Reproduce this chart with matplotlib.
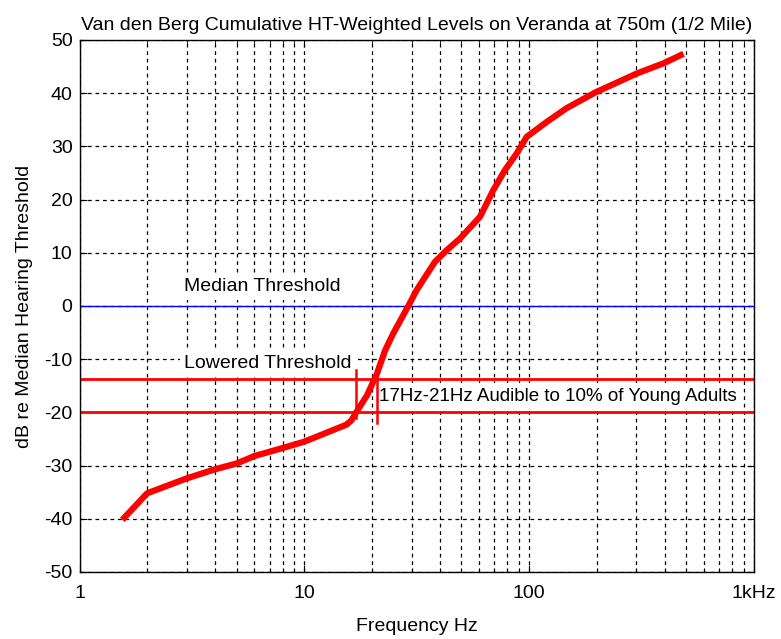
import matplotlib
matplotlib.use("Agg")
import matplotlib.pyplot as plt
import numpy as np

plt.rcParams['font.family'] = ['Liberation Sans', 'DejaVu Sans']
plt.rcParams['axes.unicode_minus'] = False

# Curve data (frequency Hz, dB re median hearing threshold)
freq = [1.55, 2.0, 3.0, 4.0, 5.0, 6.0, 8.0, 10.0, 15.4, 16.2, 17.0, 19.0, 21.0,
        22.9, 24.9, 29.0, 31.6, 38.1, 43.0, 49.3, 60.5, 69.3, 78.2, 88.1, 97.5,
        119.7, 146.9, 196.0, 301.0, 395.0, 486.0]
level = [-40.2, -35.2, -32.4, -30.7, -29.6, -28.2, -26.7, -25.5, -22.3, -21.5,
         -20.0, -16.8, -12.8, -8.3, -5.1, 0.0, 3.0, 8.3, 10.5, 12.7, 16.8, 21.8,
         25.6, 28.7, 31.8, 34.6, 37.2, 40.1, 43.7, 45.6, 47.4]

median_threshold = 0.0
lowered_threshold = [-13.7, -20.0]
band_freqs = [17, 21]
band_top = [-12.0, -13.5]
band_bottom = [-21.0, -22.0]

xticks = [1, 10, 100, 1000]
xticklabels = ['1', '10', '100', '1kHz']
yticks = list(range(-50, 51, 10))

fig = plt.figure(figsize=(7.81, 6.39), dpi=100)
ax = fig.add_axes([79.5/781, 1-572/639, (754-79.5)/781, (572-40)/639])

ax.set_xscale('log')
ax.set_xlim(1, 1000)
ax.set_ylim(-50, 50)

ax.set_axisbelow(True)
ax.grid(True, which='major', axis='both', color='black', linestyle=(0, (3, 3)), linewidth=0.9)
ax.grid(True, which='minor', axis='x', color='black', linestyle=(0, (3, 3)), linewidth=0.9)

ax.axhline(median_threshold, color='blue', linewidth=1.0, zorder=2)
for yv in lowered_threshold:
    ax.axhline(yv, color='red', linewidth=2.0, zorder=2)
for xf, yt, yb in zip(band_freqs, band_top, band_bottom):
    ax.plot([xf, xf], [yb, yt], color='red', linewidth=1.8, zorder=2)

ax.plot(freq, level, color='red', linewidth=4.5, solid_capstyle='butt', zorder=3)

fs = 14
box = dict(facecolor='white', edgecolor='none', boxstyle='square,pad=0.25')
ax.text(2.93, 3.6, 'Median Threshold', fontsize=fs, va='center', ha='left', bbox=box, zorder=1.5)
ax.text(2.93, -10.8, 'Lowered Threshold', fontsize=fs, va='center', ha='left', bbox=box, zorder=1.5)
ax.text(21.5, -17.0, '17Hz-21Hz Audible to 10% of Young Adults', fontsize=fs - 0.5, va='center', ha='left',
        bbox=box, zorder=1.5)

ax.set_xticks(xticks)
ax.set_xticklabels(xticklabels)
ax.set_yticks(yticks)
ax.tick_params(axis='both', which='both', direction='in', labelsize=fs, top=True, right=True)
ax.tick_params(axis='x', which='major', length=5, pad=9)
ax.tick_params(axis='x', which='minor', length=3)
ax.tick_params(axis='y', which='major', length=5, pad=5)
ax.xaxis.set_minor_formatter(matplotlib.ticker.NullFormatter())

for s in ax.spines.values():
    s.set_linewidth(1.0)

ax.set_title('Van den Berg Cumulative HT-Weighted Levels on Veranda at 750m (1/2 Mile)', fontsize=fs, pad=7)
ax.set_xlabel('Frequency Hz', fontsize=fs, labelpad=12)
ax.set_ylabel('dB re Median Hearing Threshold', fontsize=fs, labelpad=8)

fig.savefig('out.png', dpi=100)
